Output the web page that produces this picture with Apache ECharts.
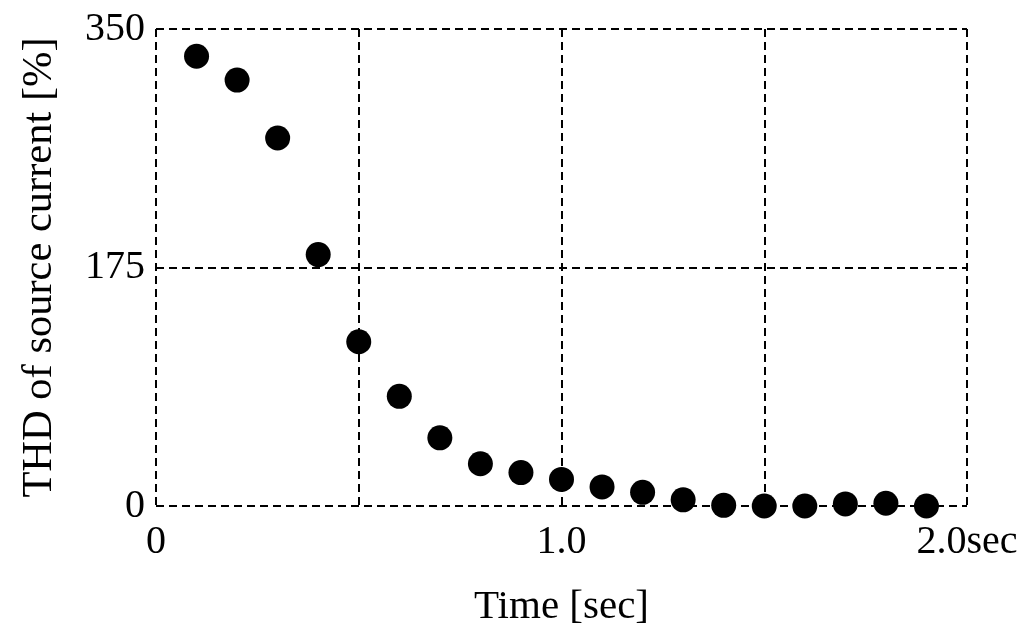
<!DOCTYPE html>
<html>
<head>
<meta charset="utf-8">
<script src="https://cdn.jsdelivr.net/npm/echarts@6/dist/echarts.min.js"></script>
<style>html,body{margin:0;padding:0;background:#fff;}#c{width:1024px;height:644px;}</style>
</head>
<body>
<div id="c"></div>
<script>
const timeSec = [0.1, 0.2, 0.3, 0.4, 0.5, 0.6, 0.7, 0.8, 0.9, 1.0, 1.1, 1.2, 1.3, 1.4, 1.5, 1.6, 1.7, 1.8, 1.9];
const thdPct  = [330, 312.5, 270, 184.5, 120.5, 80.5, 50, 31, 24.5, 19.5, 14, 10, 4.5, 0.5, 0, 0, 1.5, 2, 0];
const xTickLabels = {0: '0', 1: '1.0', 2: '2.0sec'};
const yTicks = [0, 175, 350];
const xName = 'Time [sec]';
const yName = 'THD of source current [%]';

const font = 'Liberation Serif, Times New Roman, serif';
const chart = echarts.init(document.getElementById('c'), null, {renderer: 'canvas'});
const dashed = {show: true, lineStyle: {color: '#000', width: 2, type: [8, 5]}};
chart.setOption({
  backgroundColor: '#fff',
  animation: false,
  grid: {left: 156, right: 57, top: 29, bottom: 138},
  xAxis: {
    type: 'value', min: 0, max: 2, interval: 0.5,
    name: xName, nameLocation: 'middle', nameGap: 81,
    nameTextStyle: {fontFamily: font, fontSize: 41, color: '#000'},
    axisLine: {show: false}, axisTick: {show: false},
    axisLabel: {
      fontFamily: font, fontSize: 40, color: '#000', margin: 16,
      showMinLabel: true, showMaxLabel: true,
      formatter: v => (xTickLabels[v] !== undefined ? xTickLabels[v] : '')
    },
    splitLine: dashed
  },
  yAxis: {
    type: 'value', min: yTicks[0], max: yTicks[2], interval: yTicks[1] - yTicks[0],
    name: yName, nameLocation: 'middle', nameGap: 95, nameRotate: 90,
    nameTextStyle: {fontFamily: font, fontSize: 42.5, color: '#000'},
    axisLine: {show: false}, axisTick: {show: false},
    axisLabel: {fontFamily: font, fontSize: 40, color: '#000', margin: 11},
    splitLine: dashed
  },
  series: [{
    type: 'scatter',
    data: timeSec.map((t, i) => [t, thdPct[i]]),
    symbol: 'circle', symbolSize: 25,
    itemStyle: {color: '#000', opacity: 1},
    z: 5
  }]
});
</script>
</body>
</html>
